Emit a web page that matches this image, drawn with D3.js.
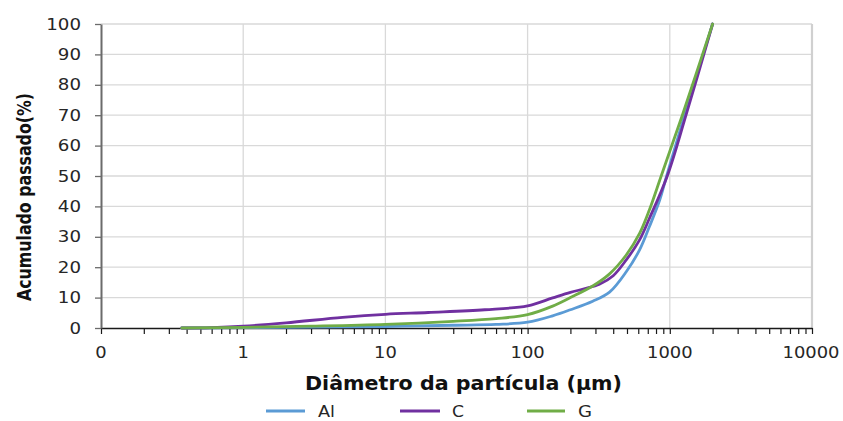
<!DOCTYPE html>
<html>
<head>
<meta charset="utf-8">
<script src="https://cdn.jsdelivr.net/npm/d3@7"></script>
<style>
  html, body { margin: 0; padding: 0; background: #fff; }
  svg { display: block; }
</style>
</head>
<body>
<svg id="chart" width="843" height="421"></svg>
<script>
// Particle size distribution: cumulative passing (%) vs particle diameter (µm)
const seriesNames = ["Al", "C", "G"];
const seriesColors = ["#5B9BD5", "#7030A0", "#70AD47"];

const diamAl = [0.37, 1, 3, 10, 30, 60, 100, 150, 200, 287, 377, 494, 613, 718, 848, 950, 1270, 2000];
const passAl = [0, 0.1, 0.3, 0.5, 0.9, 1.2, 1.9, 4.0, 6.0, 8.8, 11.8, 18.5, 25.7, 33.3, 42, 50, 70, 100];

const diamC = [0.37, 0.6, 1, 2, 5, 10, 20, 50, 100, 150, 200, 250, 320, 400, 494, 613, 718, 960, 1300, 2000];
const passC = [0, 0.15, 0.6, 1.7, 3.5, 4.5, 5.1, 6.0, 7.3, 9.9, 11.7, 12.9, 14.4, 17.2, 22.4, 29, 36, 50, 70, 100];

const diamG = [0.37, 1, 3, 10, 30, 60, 100, 150, 200, 287, 377, 494, 613, 718, 870, 1225, 2000];
const passG = [0, 0.2, 0.6, 1.2, 2.2, 3.1, 4.4, 7.2, 10.0, 13.8, 17.8, 24, 31.1, 38.8, 50, 70, 100];

const xTickValues = [0.1, 1, 10, 100, 1000, 10000];
const xTickLabels = ["0", "1", "10", "100", "1000", "10000"];
const yTickValues = [0, 10, 20, 30, 40, 50, 60, 70, 80, 90, 100];

const xTitle = "Diâmetro da partícula (µm)";
const yTitle = "Acumulado passado(%)";

const series = [
  { name: seriesNames[0], color: seriesColors[0], xs: diamAl, ys: passAl },
  { name: seriesNames[1], color: seriesColors[1], xs: diamC, ys: passC },
  { name: seriesNames[2], color: seriesColors[2], xs: diamG, ys: passG }
];

const svg = d3.select("#chart");
const plotLeft = 101, plotRight = 812, plotTop = 24, plotBottom = 328;

const x = d3.scaleLog().domain([0.1, 10000]).range([plotLeft, plotRight]);
const y = d3.scaleLinear().domain([0, 100]).range([plotBottom, plotTop]);

const tickFont = "'DejaVu Sans', Verdana, sans-serif";

// horizontal gridlines
svg.append("g")
  .selectAll("line")
  .data(yTickValues.filter(v => v > 0))
  .join("line")
  .attr("x1", plotLeft).attr("x2", plotRight)
  .attr("y1", d => y(d)).attr("y2", d => y(d))
  .attr("stroke", "#d9d9d9").attr("stroke-width", 1.3);

// vertical gridlines at each decade
svg.append("g")
  .selectAll("line")
  .data(xTickValues.slice(1))
  .join("line")
  .attr("x1", d => x(d)).attr("x2", d => x(d))
  .attr("y1", plotTop).attr("y2", plotBottom)
  .attr("stroke", d => d === 10000 ? "#d0d0d0" : "#d9d9d9")
  .attr("stroke-width", d => d === 10000 ? 2.2 : 1.3);

// minor tick positions (2..9 within each decade)
const minorTicks = [];
for (let e = -1; e < 4; e++) {
  for (let k = 2; k <= 9; k++) minorTicks.push(k * Math.pow(10, e));
}

// x axis
const xAxis = d3.axisBottom(x)
  .tickValues(xTickValues.concat(minorTicks))
  .tickSize(6)
  .tickSizeOuter(0)
  .tickFormat(() => "");
const gx = svg.append("g").attr("transform", `translate(0,${plotBottom})`).call(xAxis);
gx.select(".domain").attr("stroke", "#1a1a1a").attr("stroke-width", 1.6);
gx.selectAll(".tick line").attr("stroke", "#1a1a1a").attr("stroke-width", 1.2);

// x tick labels
svg.append("g")
  .selectAll("text")
  .data(xTickValues)
  .join("text")
  .attr("x", (d, i) => x(d) + (i === xTickValues.length - 1 ? -1 : 0))
  .attr("y", 358)
  .attr("text-anchor", "middle")
  .attr("font-family", tickFont)
  .attr("font-size", 15)
  .attr("fill", "#262626")
  .attr("textLength", (d, i) => xTickLabels[i].length * 11.4)
  .attr("lengthAdjust", "spacingAndGlyphs")
  .text((d, i) => xTickLabels[i]);

// y axis
const yAxis = d3.axisLeft(y)
  .tickValues(yTickValues)
  .tickSize(6)
  .tickSizeOuter(0)
  .tickFormat(() => "");
const gy = svg.append("g").attr("transform", `translate(${plotLeft},0)`).call(yAxis);
gy.select(".domain").attr("stroke", "#6b6b6b").attr("stroke-width", 2);
gy.selectAll(".tick line").attr("stroke", "#6b6b6b").attr("stroke-width", 1.3);

svg.append("g")
  .selectAll("text")
  .data(yTickValues)
  .join("text")
  .attr("x", 81)
  .attr("y", d => y(d) + 5.5)
  .attr("text-anchor", "end")
  .attr("font-family", tickFont)
  .attr("font-size", 15)
  .attr("fill", "#262626")
  .attr("textLength", d => String(d).length * 11.6)
  .attr("lengthAdjust", "spacingAndGlyphs")
  .text(d => d);

// series lines, smoothed
const line = d3.line()
  .x(d => x(d[0]))
  .y(d => y(d[1]))
  .curve(d3.curveCatmullRom.alpha(0.5));

svg.append("g")
  .selectAll("path")
  .data(series)
  .join("path")
  .attr("d", s => line(s.xs.map((v, i) => [v, s.ys[i]])))
  .attr("fill", "none")
  .attr("stroke", s => s.color)
  .attr("stroke-width", 2.8)
  .attr("stroke-linejoin", "round")
  .attr("stroke-linecap", "round");

// axis titles
svg.append("text")
  .attr("x", 463.5)
  .attr("y", 390)
  .attr("text-anchor", "middle")
  .attr("font-family", "'DejaVu Sans', Verdana, sans-serif")
  .attr("font-weight", "bold")
  .attr("font-size", 19)
  .attr("fill", "#111")
  .attr("textLength", 317)
  .attr("lengthAdjust", "spacingAndGlyphs")
  .text(xTitle);

svg.append("text")
  .attr("transform", "translate(31,197) rotate(-90)")
  .attr("text-anchor", "middle")
  .attr("font-family", "'Liberation Sans Narrow', 'DejaVu Sans Condensed', 'DejaVu Sans', sans-serif")
  .attr("font-weight", "bold")
  .attr("font-size", 20)
  .attr("fill", "#111")
  .attr("textLength", 208)
  .attr("lengthAdjust", "spacingAndGlyphs")
  .text(yTitle);

// legend
const legendItems = [
  { x0: 266, x1: 305, tx: 318, tw: 17 },
  { x0: 400, x1: 440, tx: 452, tw: 12 },
  { x0: 527, x1: 565, tx: 578, tw: 14 }
];
const lg = svg.append("g");
series.forEach((s, i) => {
  const it = legendItems[i];
  lg.append("line")
    .attr("x1", it.x0).attr("x2", it.x1)
    .attr("y1", 411).attr("y2", 411)
    .attr("stroke", s.color).attr("stroke-width", 2.8);
  lg.append("text")
    .attr("x", it.tx)
    .attr("y", 417)
    .attr("font-family", tickFont)
    .attr("font-size", 16)
    .attr("fill", "#262626")
    .attr("textLength", it.tw)
    .attr("lengthAdjust", "spacingAndGlyphs")
    .text(s.name);
});
</script>
</body>
</html>
